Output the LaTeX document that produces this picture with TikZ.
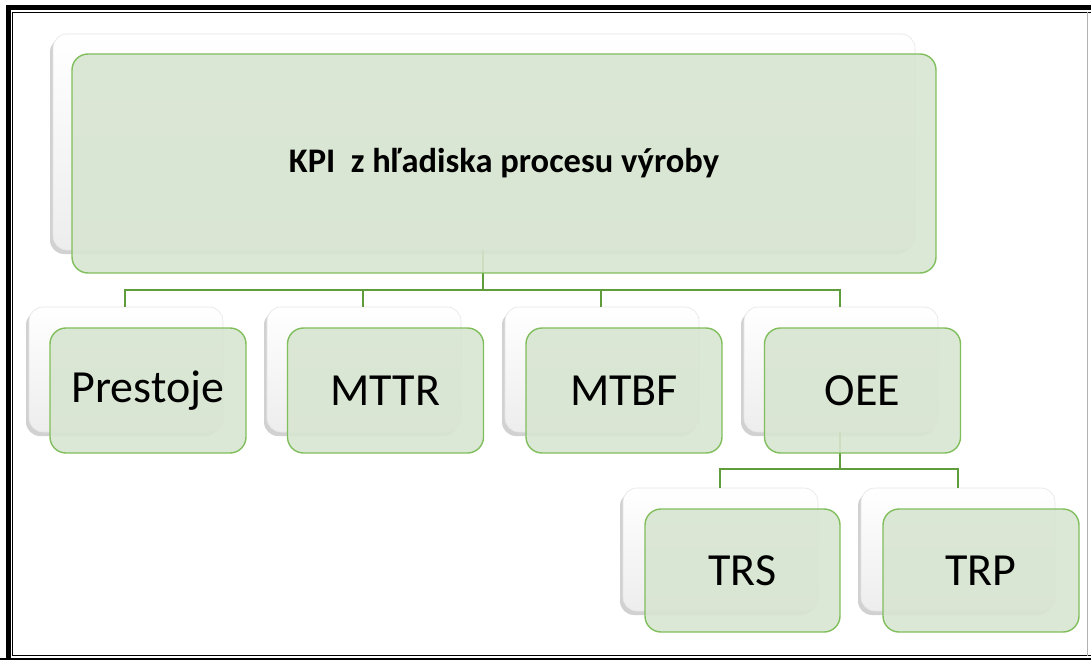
\documentclass[tikz,border=0pt]{standalone}
\usepackage{fontspec}
\setmainfont{Carlito}
\usetikzlibrary{shadows}
\definecolor{boxfill}{RGB}{216,229,209}
\definecolor{boxline}{RGB}{128,190,92}
\definecolor{conn}{RGB}{94,156,60}
\begin{document}
\begin{tikzpicture}[x=1pt,y=-1pt,
  backbox/.style={rounded corners=14pt, top color=white, bottom color=black!7, draw=black!10, line width=0.6pt,
    drop shadow={shadow xshift=-3pt, shadow yshift=-4pt, opacity=0.4, fill=black!45}},
  frontbox/.style={rounded corners=16pt, draw=boxline, line width=1.4pt, fill=boxfill, fill opacity=0.9, text opacity=1},
  conline/.style={draw=conn, line width=2.6pt},
  lbl/.style={font=\fontsize{46}{52}\selectfont, text=black}]
\useasboundingbox (0,0) rectangle (1091,660);
% frame
\draw[line width=5pt] (8,662) -- (8,8) -- (1095,8);
\draw[line width=1.5pt] (12.5,655.5) -- (12.5,12.5) -- (1095,12.5);
\draw[line width=1.5pt] (12.5,655.5) -- (1095,655.5);
\draw[line width=2.5pt] (0,659.5) -- (1095,659.5);
\draw[black!30, line width=1pt] (1087.5,12.5) -- (1087.5,655.5);
% main
\path[backbox] (53,34) rectangle (915,250);
\coordinate (mainbot) at (483,250);
\coordinate (bus) at (483,290);
% children back boxes
\path[backbox] (29,307) rectangle (223,432);
\path[backbox] (267,307) rectangle (461,432);
\path[backbox] (505,307) rectangle (699,432);
\path[backbox] (744,307) rectangle (938,432);
\path[backbox] (623,488) rectangle (818,611);
\path[backbox] (861,488) rectangle (1055,611);
% connector anchors
\coordinate (c1) at (125,307);
\coordinate (c2) at (363,307);
\coordinate (c3) at (601,307);
\coordinate (c4) at (840,307);
\coordinate (oeebot) at (840,432);
\coordinate (t1) at (720,488);
\coordinate (t2) at (958,488);
% connectors
\draw[conline] (mainbot) -- (bus);
\draw[conline] (c1) |- (bus) -| (c4);
\draw[conline] (c2) -- (c2 |- bus);
\draw[conline] (c3) -- (c3 |- bus);
\draw[conline] (oeebot) -- (840,469) coordinate (obus);
\draw[conline] (t1) |- (obus) -| (t2);
% front boxes
\node[frontbox, minimum width=864pt, minimum height=219pt, font=\fontsize{34.5}{38}\selectfont\bfseries] (kpi) at (504,163.5) {KPI\ \ z hľadiska procesu výroby};
\node[frontbox, lbl, minimum width=196pt, minimum height=125pt] (prestoje) at (148,390.5) {Prestoje};
\node[frontbox, lbl, minimum width=196pt, minimum height=125pt] (mttr) at (385.5,390.5) {MTTR};
\node[frontbox, lbl, minimum width=196pt, minimum height=125pt] (mtbf) at (624,390.5) {MTBF};
\node[frontbox, lbl, minimum width=196pt, minimum height=125pt] (oee) at (862.5,390.5) {OEE};
\node[frontbox, lbl, minimum width=195pt, minimum height=123pt] (trs) at (742.5,570.5) {TRS};
\node[frontbox, lbl, minimum width=196pt, minimum height=123pt] (trp) at (981,570.5) {TRP};
\end{tikzpicture}
\end{document}
